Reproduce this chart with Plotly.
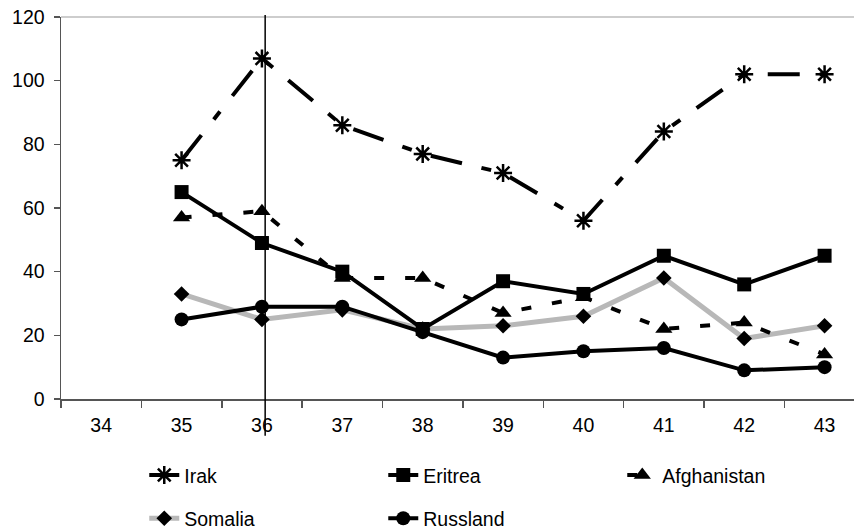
import plotly.graph_objects as go

# ---- data ----
weeks = ["34", "35", "36", "37", "38", "39", "40", "41", "42", "43"]
data_weeks = ["35", "36", "37", "38", "39", "40", "41", "42", "43"]
irak = [75, 107, 86, 77, 71, 56, 84, 102, 102]
eritrea = [65, 49, 40, 22, 37, 33, 45, 36, 45]
afghanistan = [57, 59, 38, 38, 27, 32, 22, 24, 14]
somalia = [33, 25, 28, 22, 23, 26, 38, 19, 23]
russland = [25, 29, 29, 21, 13, 15, 16, 9, 10]
y_ticks = [0, 20, 40, 60, 80, 100, 120]
marker_week = "36"

FONT = "Liberation Sans, Arial, sans-serif"
FS = 19.5
X_RANGE = [-0.5, 9.366]

fig = go.Figure()

# drawing order (bottom -> top); legend order set by legendrank
fig.add_trace(go.Scatter(
    x=data_weeks, y=somalia, name="Somalia", mode="lines+markers",
    line=dict(color="#b8b8b8", width=5),
    marker=dict(symbol="diamond", size=12, color="black"),
    legend="legend2", legendrank=1, legendwidth=194))
fig.add_trace(go.Scatter(
    x=data_weeks, y=afghanistan, name="Afghanistan", mode="lines+markers",
    line=dict(color="black", width=4, dash="10px,21px"),
    marker=dict(symbol="triangle-up", size=15, color="black"),
    legend="legend", legendrank=3))
fig.add_trace(go.Scatter(
    x=data_weeks, y=russland, name="Russland", mode="lines+markers",
    line=dict(color="black", width=4),
    marker=dict(symbol="circle", size=14, color="black"),
    legend="legend2", legendrank=2))
fig.add_trace(go.Scatter(
    x=data_weeks, y=irak, name="Irak", mode="lines+markers",
    line=dict(color="black", width=4, dash="32px,20px,10px,20px"),
    marker=dict(symbol="asterisk-open", size=15, color="black",
                line=dict(color="black", width=2.5)),
    legend="legend", legendrank=1, legendwidth=194))
fig.add_trace(go.Scatter(
    x=data_weeks, y=eritrea, name="Eritrea", mode="lines+markers",
    line=dict(color="black", width=4),
    marker=dict(symbol="square", size=14, color="black"),
    legend="legend", legendrank=2, legendwidth=194))

legend_common = dict(
    orientation="h", xanchor="left", yanchor="middle",
    bgcolor="rgba(0,0,0,0)", borderwidth=0,
    font=dict(family=FONT, size=FS, color="black"),
    traceorder="normal",
)

# vertical reference line position in paper coords, derived from the category axis
idx = weeks.index(marker_week)
line_x = (idx + 0.04 - X_RANGE[0]) / (X_RANGE[1] - X_RANGE[0])

fig.update_layout(
    width=854, height=531,
    margin=dict(l=61, r=0, t=17, b=132, autoexpand=False),
    paper_bgcolor="white", plot_bgcolor="white",
    font=dict(family=FONT, size=FS, color="black"),
    showlegend=True,
    legend=dict(x=0.105, y=-0.200, **legend_common),
    legend2=dict(x=0.105, y=-0.313, **legend_common),
    xaxis=dict(
        type="category", categoryorder="array", categoryarray=weeks,
        range=X_RANGE, tickson="boundaries", automargin=False,
        ticks="outside", ticklen=7, tickcolor="#555", tickwidth=1.5,
        showline=True, linecolor="#555", linewidth=1.5,
        showgrid=False, zeroline=False, ticklabelstandoff=8,
        tickfont=dict(family=FONT, size=FS, color="black"),
    ),
    yaxis=dict(
        range=[0, 120], tickmode="array", tickvals=y_ticks, automargin=False,
        ticks="outside", ticklen=6, tickcolor="#555", tickwidth=1.5,
        showline=True, linecolor="#555", linewidth=1.5,
        showgrid=False, zeroline=False, ticklabelstandoff=5,
        tickfont=dict(family=FONT, size=FS, color="black"),
    ),
    shapes=[
        dict(type="line", xref="paper", yref="paper", x0=0, x1=1, y0=1, y1=1,
             line=dict(color="#bdbdbd", width=1.5)),
        dict(type="line", xref="paper", yref="paper", x0=line_x, x1=line_x,
             y0=-0.096, y1=1.005, line=dict(color="black", width=1.5)),
    ],
)

fig.write_html("out.html",
               config={"displayModeBar": False, "staticPlot": True},
               post_script="document.body.style.margin='0';document.body.style.overflow='hidden';")
